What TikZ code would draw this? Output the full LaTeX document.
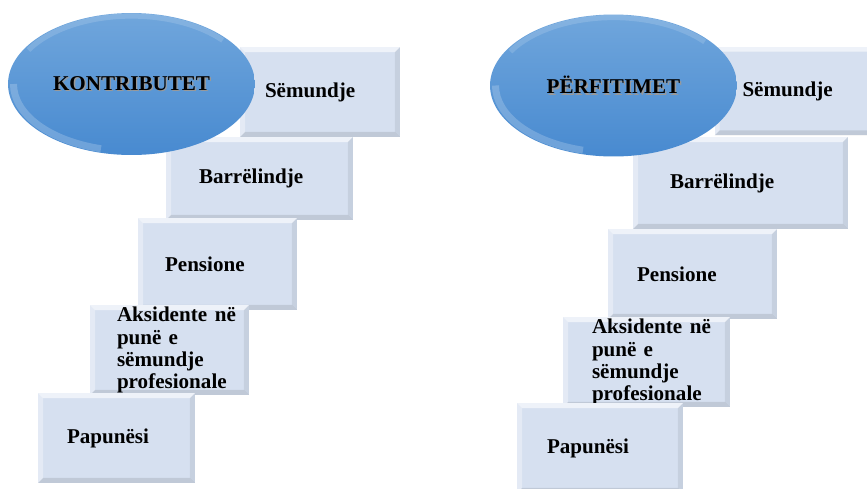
\documentclass[tikz,border=0pt]{standalone}
\usepackage{fontspec}
\setmainfont{Liberation Serif}
\usetikzlibrary{shapes.geometric,positioning}

\definecolor{boxfill}{RGB}{214,224,240}
\definecolor{ovaltop}{RGB}{112,166,220}
\definecolor{ovalbot}{RGB}{72,138,208}

% text with a soft shadow
\newcommand{\shadowed}[1]{\makebox[0pt][l]{\hspace{0.8pt}\raisebox{-1pt}{\textcolor{black!40}{#1}}}#1}

\tikzset{
  stepbox/.style={rectangle, fill=boxfill, inner sep=0pt,
    path picture={
      \fill[white,opacity=.6] (path picture bounding box.north west) -- (path picture bounding box.north east)
        -- ++(-5,5) -- ([shift={(5,5)}]path picture bounding box.north west) -- cycle;
      \fill[white,opacity=.35] (path picture bounding box.north west) -- ([shift={(5,5)}]path picture bounding box.north west)
        -- ([shift={(5,-5)}]path picture bounding box.south west) -- (path picture bounding box.south west) -- cycle;
      \fill[black,opacity=.07] (path picture bounding box.north east) -- ([shift={(-5,5)}]path picture bounding box.north east)
        -- ([shift={(-5,-5)}]path picture bounding box.south east) -- (path picture bounding box.south east) -- cycle;
      \fill[black,opacity=.1] (path picture bounding box.south west) -- (path picture bounding box.south east)
        -- ++(-5,-5) -- ([shift={(5,-5)}]path picture bounding box.south west) -- cycle;
    }},
  steptext/.style={font=\fontsize{12}{12.6}\selectfont\bfseries, inner sep=0pt, anchor=west, align=left},
  headoval/.style={ellipse, inner sep=0pt, minimum width=4.94cm, minimum height=2.84cm,
    top color=ovaltop, bottom color=ovalbot, font=\fontsize{12}{14}\selectfont\bfseries,
    path picture={
      \draw[white,opacity=.2,line width=4pt] (path picture bounding box.center) ++(180:118 and 67)
        arc[start angle=180, end angle=105, x radius=118, y radius=67];
      \draw[white,opacity=.15,line width=3pt] (path picture bounding box.center) ++(210:119 and 68)
        arc[start angle=210, end angle=320, x radius=119, y radius=68];
    }},
}

\begin{document}
\begin{tikzpicture}[x=0.02cm,y=-0.02cm]
\useasboundingbox (0,0) rectangle (867,488);
\clip (0,0) rectangle (867,488);

% KONTRIBUTET
\node[stepbox, minimum width=3.2cm, minimum height=1.8cm] (k1) at (320,92) {};
\node[steptext, right=0.5cm of k1.west] (k1t) {Sëmundje};
\node[stepbox, minimum width=3.74cm, minimum height=1.66cm] (k2) at (259.5,178.5) {};
\node[steptext, right=0.66cm of k2.west] (k2t) {Barrëlindje};
\node[stepbox, minimum width=3.18cm, minimum height=1.84cm] (k3) at (217.5,264) {};
\node[steptext, right=0.54cm of k3.west] (k3t) {Pensione};
\node[stepbox, minimum width=3.18cm, minimum height=1.8cm] (k4) at (169.5,350) {};
\node[steptext, text width=2.38cm, right=0.54cm of k4.west] (k4t)
  {Aksidente\hfill në\\punë e\\sëmundje\\profesionale};
\node[stepbox, minimum width=3.14cm, minimum height=1.8cm] (k5) at (116.5,438) {};
\node[steptext, right=0.58cm of k5.west] (k5t) {Papunësi};
\node[headoval] (kontr) at (131.5,84) {\shadowed{KONTRIBUTET}};

% PERFITIMET
\node[stepbox, minimum width=3.22cm, minimum height=1.78cm] (p1) at (795,91) {};
\node[steptext, right=0.56cm of p1.west] (p1t) {Sëmundje};
\node[stepbox, minimum width=4.3cm, minimum height=1.84cm] (p2) at (740.5,183) {};
\node[steptext, right=0.74cm of p2.west] (p2t) {Barrëlindje};
\node[stepbox, minimum width=3.38cm, minimum height=1.8cm] (p3) at (692.5,274) {};
\node[steptext, right=0.58cm of p3.west] (p3t) {Pensione};
\node[stepbox, minimum width=3.34cm, minimum height=1.8cm] (p4) at (646.5,362) {};
\node[steptext, text width=2.38cm, right=0.58cm of p4.west] (p4t)
  {Aksidente\hfill në\\punë e\\sëmundje\\profesionale};
\node[stepbox, minimum width=3.32cm, minimum height=1.8cm] (p5) at (600,448) {};
\node[steptext, right=0.6cm of p5.west] (p5t) {Papunësi};
\node[headoval] (perf) at (613.5,85.5) {\shadowed{PËRFITIMET}};

\end{tikzpicture}
\end{document}
